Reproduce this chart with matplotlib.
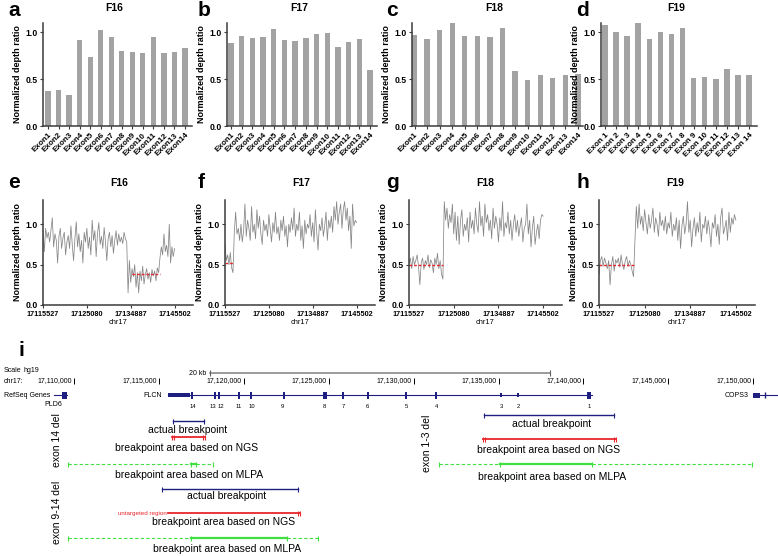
import numpy as np
import matplotlib
matplotlib.use('Agg')
import matplotlib.pyplot as plt
from matplotlib.patches import Rectangle

plt.rcParams['font.family'] = ['Liberation Sans', 'DejaVu Sans']

W, H = 778, 556

# ---------------- data: exon depth ratios (panels a-d)
exons = ['Exon%d' % i for i in range(1, 15)]
exons_sp = ['Exon %d' % i for i in range(1, 15)]
f16_exon = [0.37, 0.38, 0.33, 0.92, 0.74, 1.02, 0.95, 0.80, 0.79, 0.78, 0.95, 0.78, 0.79, 0.83]
f17_exon = [0.89, 0.96, 0.94, 0.95, 1.04, 0.92, 0.91, 0.94, 0.98, 0.99, 0.84, 0.90, 0.93, 0.60]
f18_exon = [0.97, 0.93, 1.03, 1.10, 0.96, 0.96, 0.95, 1.05, 0.59, 0.49, 0.54, 0.51, 0.54, 0.56]
f19_exon = [1.08, 1.00, 0.96, 1.10, 0.93, 1.00, 0.98, 1.05, 0.51, 0.52, 0.50, 0.61, 0.55, 0.55]

# ---------------- data: probe depth ratios along chr17 (panels e-h)
pos_labels = ['17115527', '17125080', '17134887', '17145502']
f16_probe = [0.92, 0.66, 0.95, 0.83, 0.90, 0.78, 0.93, 1.08, 0.72, 0.88,
             0.80, 0.52, 0.85, 0.95, 0.70, 0.83, 0.90, 0.62, 0.78, 0.86,
             0.70, 0.98, 0.75, 0.55, 0.82, 1.03, 0.72, 0.88, 0.66, 0.80,
             0.52, 0.90, 0.78, 0.95, 0.70, 0.84, 0.62, 1.05, 0.80, 0.92,
             0.60, 0.88, 1.02, 0.75, 0.85, 0.70, 0.96, 0.78, 0.55, 0.82,
             0.90, 0.72, 0.86, 0.64, 0.80, 0.92, 0.74, 0.88, 0.78, 0.84,
             0.76, 0.90, 0.82, 0.78,
             0.15, 0.55, 0.28, 0.45, 0.35, 0.50, 0.22, 0.40, 0.15, 0.42,
             0.30, 0.48, 0.26, 0.38, 0.45, 0.32, 0.40, 0.28, 0.44, 0.36,
             0.42, 0.30, 0.46, 0.40,
             0.58, 0.72, 0.62, 0.88, 0.66, 0.74, 0.60, 1.00, 0.52, 0.72, 0.60, 0.70]
f17_probe = [0.75, 0.55, 0.62, 0.50, 0.65, 0.46, 0.40, 0.90, 1.15, 0.88,
             0.95, 0.80, 1.00, 0.78, 0.92, 1.25, 0.85, 1.05, 0.95, 0.80,
             1.22, 0.90, 1.00, 0.82, 1.18, 0.95, 1.10, 0.88, 0.75, 1.05,
             0.92, 1.00, 0.85, 1.12, 0.95, 0.78, 1.02, 0.90, 1.15, 0.88,
             0.97, 0.80, 1.05, 0.92, 1.10, 0.85, 0.98, 0.72, 1.00, 0.90,
             1.08, 0.93, 1.20, 0.85, 1.00, 0.92, 1.15, 0.80, 0.98, 0.70,
             1.05, 0.88, 1.00, 0.95, 1.12, 0.85, 1.02, 0.78, 1.18, 0.90,
             0.68, 1.00, 0.92, 1.08, 0.85, 0.98, 1.15, 0.80, 1.05, 0.95,
             1.10, 0.90, 1.22, 1.05, 1.28, 1.00, 1.15, 1.25, 0.95, 1.18,
             1.28, 1.05, 1.20, 0.92, 1.10, 0.70, 1.25, 0.98, 1.05, 1.02]
f18_probe = [0.52, 0.58, 0.45, 0.60, 0.50, 0.55, 0.62, 0.48, 0.25, 0.52,
             0.58, 0.44, 0.55, 0.50, 0.62, 0.46, 0.56, 0.52, 0.40, 0.58,
             0.50, 0.64, 0.45, 0.55, 0.38, 0.32,
             1.28, 1.05, 1.20, 0.95, 1.12, 1.02, 1.25, 0.88, 1.15, 0.80,
             1.10, 0.75, 1.05, 1.18, 0.85, 1.00, 0.92, 1.08, 0.78, 1.15,
             0.95, 1.05, 0.88, 1.20, 1.00, 0.90, 1.28, 0.98, 1.10, 0.85,
             1.25, 1.02, 1.12, 0.92, 1.05, 0.82, 1.20, 0.95, 1.10, 1.00,
             0.78, 1.08, 0.92, 1.28, 0.85, 1.02, 0.95, 1.15, 0.88, 1.05,
             0.80, 1.00, 1.12, 0.90, 1.05, 0.85, 0.98, 1.08, 0.78, 0.95,
             1.00, 1.25, 0.88, 1.05, 0.72, 0.95, 1.10, 0.75, 0.90, 1.00,
             0.82, 1.05, 1.12, 1.10]
f19_probe = [0.38, 0.55, 0.60, 0.48, 0.58, 0.52, 0.45, 0.55, 0.25, 0.50,
             0.60, 0.42, 0.56, 0.52, 0.58, 0.47, 0.62, 0.50, 0.44, 0.55,
             0.60, 0.48, 0.55, 0.50, 0.42, 0.35,
             0.80, 1.22, 0.95, 1.25, 1.00, 1.10, 0.92, 1.18, 1.02, 0.88,
             1.12, 0.95, 1.05, 1.20, 0.90, 1.08, 1.00, 0.85, 1.15, 0.98,
             1.05, 0.92, 1.10, 0.88, 1.02, 0.95, 1.15, 0.85, 1.00, 0.92,
             1.08, 0.80, 1.05, 0.70, 0.98, 1.10, 0.88, 1.00, 1.28, 0.90,
             1.05, 0.72, 0.95, 1.08, 0.85, 1.02, 0.90, 1.15, 0.78, 1.00,
             0.95, 1.10, 0.88, 1.05, 0.92, 0.72, 1.02, 0.95, 1.12, 0.85,
             1.00, 0.75, 1.08, 1.20, 0.88, 0.95, 1.05, 0.80, 1.15, 0.90,
             1.08, 1.00, 1.12, 1.05]
# deleted segment mean: [start probe, end probe, level]
f16_del = [67, 88, 0.38]
f17_del = [0, 6, 0.52]
f18_del = [0, 25, 0.50]
f19_del = [0, 25, 0.50]

# ---------------- data: genome browser (panel i), hg19 chr17
chr_ticks = [17110000, 17115000, 17120000, 17125000, 17130000,
             17135000, 17140000, 17145000, 17150000]
flcn_span = [17115526, 17140502]
flcn_exon_no = [14, 13, 12, 11, 10, 9, 8, 7, 6, 5, 4, 3, 2, 1]
flcn_exon_pos = [17116950, 17118300, 17118540, 17119720, 17120420, 17122370, 17124780,
                 17125840, 17127310, 17129550, 17131320, 17135150, 17136150, 17140330]
flcn_label_pos = [17117000, 17118150, 17118650, 17119700, 17120480, 17122300, 17124720,
                  17125840, 17127250, 17129550, 17131350, 17135150, 17136150, 17140370]
pld6_span = [17108800, 17109600]
cops3_span = [17149990, 17151500]
scale_bar = [17118010, 17138010]

e14_actual = [17115831, 17117657]
e14_ngs = [17115772, 17117716]
e14_mlpa = [17109647, 17116891, 17117186, 17118187]
e914_actual = [17115183, 17123194]
e914_ngs = [17115537, 17123311]
e914_mlpa = [17109647, 17116891, 17122546, 17124372]
e13_actual = [17134149, 17141806]
e13_ngs = [17134090, 17141924]
e13_mlpa = [17131499, 17135091, 17140510, 17149934]

BAR = '#a3a3a3'
LINE = '#858585'
AX = '#3a3a3a'
NAVY = '#1f1f80'
RED = '#e8262b'
GREEN = '#3fe03f'

fig = plt.figure(figsize=(W / 100, H / 100), dpi=100)


def rect(l, t, r, b):
    return [l / W, 1 - b / H, (r - l) / W, (b - t) / H]


def ftext(x, y, s, **kw):
    fig.text(x / W, 1 - y / H, s, **kw)


def style(ax):
    for s in ['top', 'right']:
        ax.spines[s].set_visible(False)
    for s in ['left', 'bottom']:
        ax.spines[s].set_linewidth(1.1)
        ax.spines[s].set_color(AX)
    ax.tick_params(length=2.5, width=0.8, color=AX, pad=1.5)
    ax.set_yticks([0, 0.5, 1.0])
    ax.set_yticklabels(['0.0', '0.5', '1.0'], fontsize=6.2, fontweight='bold')
    ax.set_ylabel('Normalized depth ratio', fontsize=6.5, fontweight='bold', labelpad=2)


# ---------------- bar panels
bar_panels = [
    ('a', 'F16', f16_exon, exons, (43, 192), (-0.48, 13.67), 0.5, 8),
    ('b', 'F17', f17_exon, exons, (227, 377), (-0.37, 13.65), 0.5, 198),
    ('c', 'F18', f18_exon, exons, (412, 583), (-0.2, 13.4), 0.42, 386),
    ('d', 'F19', f19_exon, exons_sp, (601, 757), (-0.36, 13.72), 0.5, 576),
]
for letter, title, vals, labels, (l, r), xl, bw, lx in bar_panels:
    ax = fig.add_axes(rect(l, 23, r, 126))
    x = np.arange(len(vals))
    ax.bar(x, vals, width=bw, color=BAR)
    ax.set_ylim(0, 1.1)
    ax.set_xlim(*xl)
    style(ax)
    ax.set_xticks(x)
    ax.set_xticklabels(labels, rotation=45, ha='right', rotation_mode='anchor',
                       fontsize=5.9, fontweight='bold')
    ftext(lx, 10, letter, fontsize=15, fontweight='bold', va='center')
    ftext((l + r) / 2 - 3, 8, title, fontsize=7.5, fontweight='bold', ha='center', va='center')

# ---------------- probe panels
line_panels = [
    ('e', 'F16', f16_probe, f16_del, (43, 193), 8),
    ('f', 'F17', f17_probe, f17_del, (225, 375), 198),
    ('g', 'F18', f18_probe, f18_del, (409, 562), 386),
    ('h', 'F19', f19_probe, f19_del, (599, 755), 576),
]
for letter, title, vals, dl, (l, r), lx in line_panels:
    ax = fig.add_axes(rect(l, 200, r, 305))
    x = np.arange(len(vals))
    ax.plot(x, vals, color=LINE, lw=0.55)
    ax.plot([dl[0], dl[1]], [dl[2], dl[2]], color=RED, lw=1.0, dashes=(2, 1.3))
    n = len(vals) - 1
    ax.set_xlim(0, n * 1.14)
    ax.set_ylim(0, 1.3)
    style(ax)
    ax.set_xticks([0, n / 3, 2 * n / 3, n])
    ax.set_xticklabels(pos_labels, fontsize=5.2, fontweight='bold')
    ax.set_xlabel('chr17', fontsize=5.4, labelpad=1)
    ftext(lx, 182, letter, fontsize=15, fontweight='bold', va='center')
    ftext(l + 76, 183, title, fontsize=7.5, fontweight='bold', ha='center', va='center')

# ---------------- genome browser panel
bp_px = 5000 / 84.9
X0 = 17110000 - 74 * bp_px
ax = fig.add_axes([0, 0, 1, 226 / H])
ax.set_xlim(X0, X0 + W * bp_px)
ax.set_ylim(556, 330)
ax.axis('off')


def gx(px):
    return X0 + px * bp_px


def vtick(x, y, h, color, lw=0.8):
    ax.plot([x, x], [y - h / 2, y + h / 2], color=color, lw=lw, solid_capstyle='butt')


ftext(18, 350, 'i', fontsize=15, fontweight='bold', va='center')
small = dict(fontsize=5.0, va='center')
ax.text(gx(4), 370, 'Scale', **small)
ax.text(gx(24), 370, 'hg19', **small)
ax.text(gx(4), 381, 'chr17:', **small)
ax.text(gx(4), 395, 'RefSeq Genes', **small)

# scale bar
ax.plot(scale_bar, [373, 373], color='#808080', lw=1.1)
vtick(scale_bar[0], 373, 6, '#606060')
vtick(scale_bar[1], 373, 6, '#606060')
ax.text(scale_bar[0] - 4 * bp_px, 373, '20 kb', ha='right', **small)

# chromosome ticks
for t in chr_ticks:
    vtick(t, 381, 6, 'black', lw=0.7)
    ax.text(t - 2 * bp_px, 381, '{:,}'.format(t), ha='right', **small)

# FLCN gene
ax.plot(flcn_span, [395, 395], color=NAVY, lw=0.8)
ax.add_patch(Rectangle((flcn_span[0], 393), flcn_exon_pos[0] - 120 - flcn_span[0], 4,
                       color=NAVY, lw=0))
for num, p in zip(flcn_exon_no, flcn_exon_pos):
    w = 250 if num in (8, 1) else 110
    h = 4 if num in (3, 2) else 7
    ax.add_patch(Rectangle((p - w / 2, 395 - h / 2), w, h, color=NAVY, lw=0))
for num, p in zip(flcn_exon_no, flcn_label_pos):
    ax.text(p, 406, str(num), ha='center', va='center', fontsize=4.2)
ax.text(flcn_span[0] - 6 * bp_px, 395, 'FLCN', ha='right', **small)

# PLD6
ax.plot(pld6_span, [395, 395], color=NAVY, lw=0.8)
ax.add_patch(Rectangle((pld6_span[1] - 300, 391.5), 300, 7, color=NAVY, lw=0))
ax.text(pld6_span[0], 404, 'PLD6', ha='center', **small)

# COPS3
ax.plot(cops3_span, [395, 395], color=NAVY, lw=0.8)
ax.add_patch(Rectangle((cops3_span[0], 393), 420, 5, color=NAVY, lw=0))
vtick(cops3_span[0] + 700, 395, 6, NAVY, lw=1.0)
ax.text(cops3_span[0] - 4 * bp_px, 395, 'COPS3', ha='right', **small)

lab = dict(fontsize=7.5, ha='center', va='center')
dtk = 1.6 * bp_px


def actual(span, y, ly, lxp):
    ax.plot(span, [y, y], color=NAVY, lw=1.0)
    vtick(span[0], y, 5, NAVY)
    vtick(span[1], y, 5, NAVY)
    ax.text(gx(lxp), ly, 'actual breakpoint', **lab)


def ngs(span, y, ly, lxp, left=True):
    ax.plot(span, [y, y], color=RED, lw=1.3)
    if left:
        vtick(span[0], y, 5, RED)
        vtick(span[0] + dtk, y, 5, RED)
    vtick(span[1], y, 5, RED)
    vtick(span[1] - dtk, y, 5, RED)
    ax.text(gx(lxp), ly, 'breakpoint area based on NGS', **lab)


def mlpa(pts, y, ly, lxp):
    ax.plot(pts[:2], [y, y], color=GREEN, lw=0.8, dashes=(3, 2))
    ax.plot(pts[1:3], [y, y], color=GREEN, lw=1.6)
    ax.plot(pts[2:], [y, y], color=GREEN, lw=0.8, dashes=(3, 2))
    for p in pts:
        vtick(p, y, 5, GREEN)
    ax.text(gx(lxp), ly, 'breakpoint area based on MLPA', **lab)


# exon 14 deletion
actual(e14_actual, 421, 430, 188)
ngs(e14_ngs, 437, 448, 187)
mlpa(e14_mlpa, 464, 475, 189)
ax.text(gx(57), 440, 'exon 14 del', rotation=90, **lab)

# exon 9-14 deletion
actual(e914_actual, 489, 496, 227)
ngs(e914_ngs, 513, 522, 224, left=False)
ax.text(e914_ngs[0] - 1 * bp_px, 513, 'untargeted region', color=RED, fontsize=4.5,
        ha='right', va='center')
mlpa(e914_mlpa, 538, 549, 227)
ax.text(gx(57), 512, 'exon 9-14 del', rotation=90, **lab)

# exon 1-3 deletion
actual(e13_actual, 415, 424, 552)
ngs(e13_ngs, 439, 450, 549)
mlpa(e13_mlpa, 464, 477, 552)
ax.text(gx(427), 443, 'exon 1-3 del', rotation=90, **lab)

fig.savefig('out.png', dpi=100)
